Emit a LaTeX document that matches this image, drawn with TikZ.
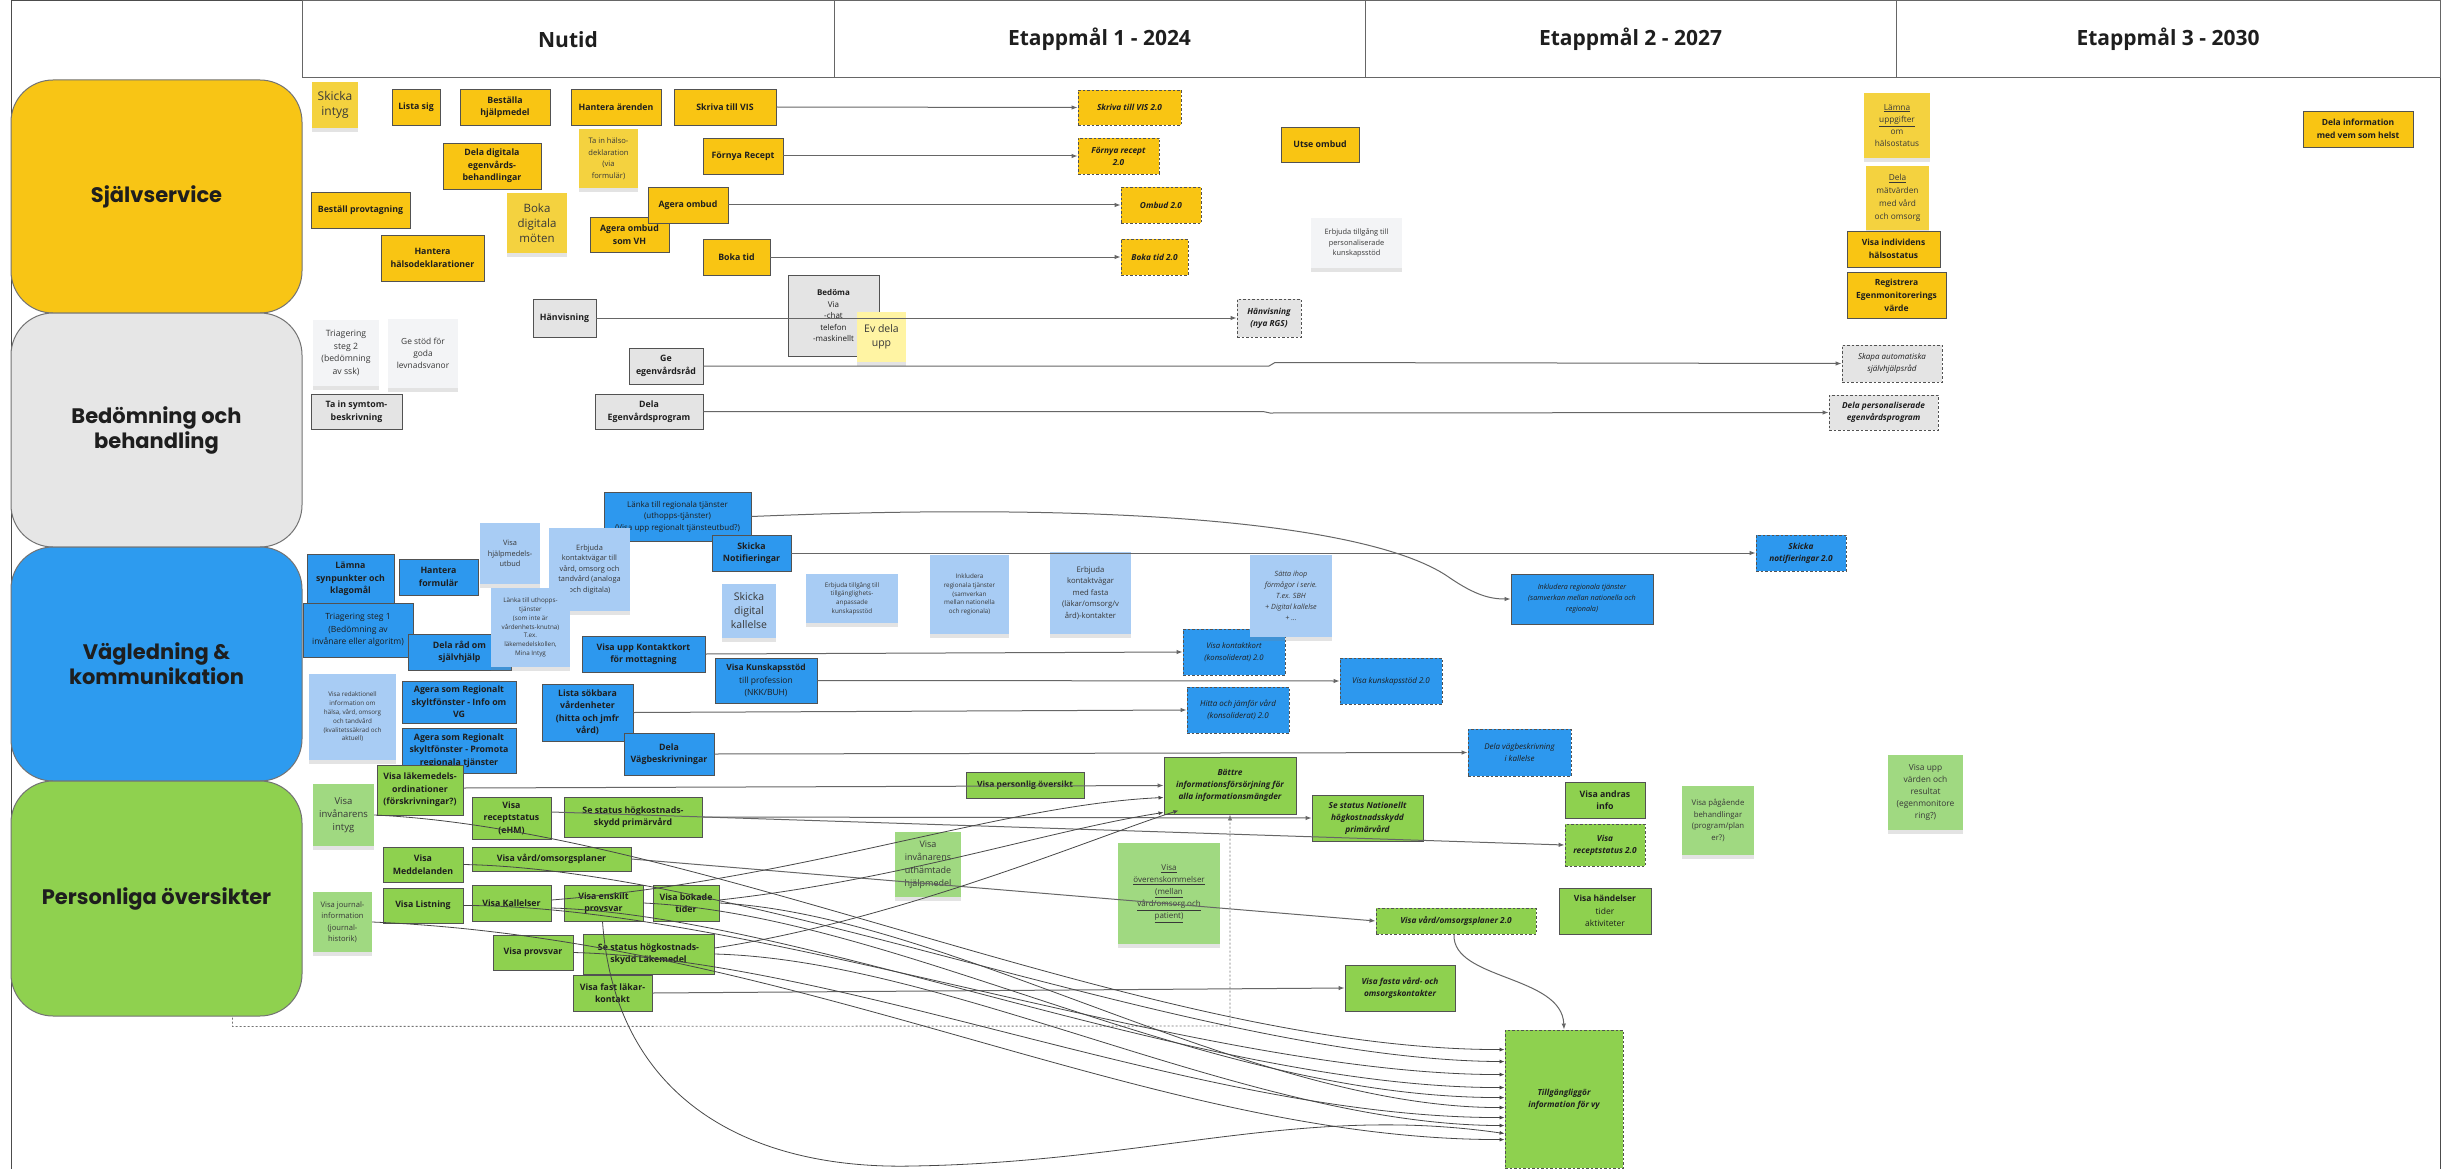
\documentclass[tikz,border=0pt]{standalone}
\usepackage{fontspec}
\setmainfont{Open Sans}
\newfontfamily\lanefont{Poppins}
\usetikzlibrary{arrows.meta,shadows,calc}
\definecolor{cT}{HTML}{1E1E1E}
\definecolor{cY}{HTML}{F9C513}
\definecolor{cYS}{HTML}{F4D23F}
\definecolor{cYL}{HTML}{FFF4A3}
\definecolor{cG}{HTML}{E4E4E4}
\definecolor{cGS}{HTML}{F3F4F6}
\definecolor{cB}{HTML}{2D98EE}
\definecolor{cBS}{HTML}{A8CCF4}
\definecolor{cGr}{HTML}{8ED14F}
\definecolor{cGrS}{HTML}{A0D981}
\definecolor{cLY}{HTML}{F8C515}
\definecolor{cLG}{HTML}{E6E6E6}
\definecolor{cLB}{HTML}{2D9BEF}
\definecolor{cLGr}{HTML}{8FD14F}
\newcommand\fsz[2]{\fontsize{#1}{#2}\selectfont}
\newcommand\bx[7]{%
  \pgfmathsetmacro\bxw{#5-#3}%
  \pgfmathsetmacro\bxh{#6-#4}%
  \pgfmathsetmacro\bxcx{(#3+#5)/2}%
  \pgfmathsetmacro\bxcy{(#4+#6)/2}%
  \node[#1, minimum width=\bxw pt, minimum height=\bxh pt] (#2) at (\bxcx,\bxcy) {#7};}
\tikzset{
  bxbase/.style={rectangle, inner sep=1.5pt, align=center, text=cT},
  sol/.style={bxbase, draw=black!68, line width=0.95pt},
  dsh/.style={bxbase, draw=black!68, line width=0.9pt, dash pattern=on 2.5pt off 2pt},
  fB/.style={font=\fsz{8.8}{12.5}\bfseries},
  fBI/.style={font=\fsz{8.3}{12}\bfseries\itshape},
  fI/.style={font=\fsz{8}{11.5}\itshape},
  fN/.style={font=\fsz{8}{11.5}},
  fS/.style={font=\fsz{7.4}{10.5}},
  fT/.style={font=\fsz{6.3}{8.8}},
  fL/.style={font=\fsz{11.5}{15}},
  ybox/.style={sol, fill=cY, fB}, ydash/.style={dsh, fill=cY, fBI},
  gbox/.style={sol, fill=cG, fB}, gdash/.style={dsh, fill=cG, fBI},
  bbox/.style={sol, fill=cB, fB}, bdash/.style={dsh, fill=cB, fI},
  grbox/.style={sol, fill=cGr, fB}, grdash/.style={dsh, fill=cGr, fBI},
  sticky/.style={bxbase, text=black!78, fS, drop shadow={shadow xshift=0pt, shadow yshift=-4pt, opacity=0.22}},
  ys/.style={sticky, fill=cYS}, yl/.style={sticky, fill=cYL},
  gs/.style={sticky, fill=cGS}, bs/.style={sticky, fill=cBS}, grs/.style={sticky, fill=cGrS},
  hdr/.style={rectangle, draw=black!60, line width=1pt, text=cT, font=\fsz{21}{25}\bfseries},
  lane/.style={rectangle, rounded corners=42pt, draw=black!55, line width=1pt, align=center, text=cT, font=\lanefont\fsz{21}{25}\bfseries},
  arr/.style={draw=black!60, line width=1pt, -{Latex[length=6pt,width=4.5pt]}},
  sp/.style={draw=black!72, line width=0.8pt, -{Latex[length=5pt,width=4pt]}},
  dotc/.style={draw=black!55, line width=0.9pt, dash pattern=on 2pt off 2pt, -{Latex[length=6pt,width=4.5pt]}}
}
\begin{document}
\begin{tikzpicture}[x=1pt,y=-1pt]
\useasboundingbox (0,0) rectangle (2443,1169);
\fill[white] (0,0) rectangle (2443,1169);
\draw[black!70, line width=1pt] (11,1169) -- (11,1) -- (2440,1) -- (2440,1169);
% header
\bx{hdr}{h0}{302}{1}{834}{78}{Nutid}
\bx{hdr}{h1}{834}{1}{1365}{78}{Etappmål 1 - 2024}
\bx{hdr}{h2}{1365}{1}{1896}{78}{Etappmål 2 - 2027}
\bx{hdr}{h3}{1896}{1}{2440}{78}{Etappmål 3 - 2030}
% lanes
\bx{lane,fill=cLY}{ls}{11}{80}{302}{313}{Självservice}
\bx{lane,fill=cLG}{lb}{11}{313}{302}{547}{Bedömning och\\behandling}
\bx{lane,fill=cLB}{lv}{11}{547}{302}{781}{Vägledning \&\\kommunikation}
\bx{lane,fill=cLGr}{lp}{11}{781}{302}{1016}{Personliga översikter}
% Självservice
\bx{ys,font=\fsz{12}{15}}{skickaintyg}{312}{82}{358}{128}{Skicka\\intyg}
\bx{ybox}{listasig}{392}{89}{440}{125}{Lista sig}
\bx{ybox}{bestalla}{460}{89}{550}{125}{Beställa\\hjälpmedel}
\bx{ybox}{hantarenden}{571}{89}{661}{125}{Hantera ärenden}
\bx{ybox}{skrivavis}{674}{89}{776}{125}{Skriva till VIS}
\bx{ys,font=\fsz{7.6}{11.5}}{tainhalso}{579}{129}{638}{188}{Ta in hälso-\\deklaration\\(via\\formulär)}
\bx{ybox}{deladig}{443}{143}{541}{189}{Dela digitala\\egenvårds-\\behandlingar}
\bx{ybox}{fornya}{703}{138}{783}{174}{Förnya Recept}
\bx{ybox}{bestprov}{311}{192}{410}{228}{Beställ provtagning}
\bx{ys,fL}{bokadig}{507}{193}{567}{253}{Boka\\digitala\\möten}
\bx{ybox}{agerovh}{590}{217}{669}{252}{Agera ombud\\som VH}
\bx{ybox}{agerombud}{648}{187}{728}{223}{Agera ombud}
\bx{ybox}{hanthalso}{381}{235}{484}{281}{Hantera\\hälsodeklarationer}
\bx{ybox}{bokatid}{703}{239}{770}{275}{Boka tid}
\bx{ydash}{skriva2}{1078}{90}{1181}{125}{Skriva till VIS 2.0}
\bx{ydash}{fornya2}{1078}{138}{1159}{174}{Förnya recept\\2.0}
\bx{ydash}{ombud2}{1121}{187}{1201}{223}{Ombud 2.0}
\bx{ydash}{bokatid2}{1121}{239}{1188}{275}{Boka tid 2.0}
\bx{ybox}{utse}{1281}{127}{1359}{162}{Utse ombud}
\bx{gs}{erbpers}{1311}{218}{1402}{268}{Erbjuda tillgång till\\personaliserade\\kunskapsstöd}
\bx{ys,font=\fsz{8.3}{12.3}}{lamnaupp}{1864}{93}{1930}{158}{\underline{Lämna}\\\underline{uppgifter}\\om\\hälsostatus}
\bx{ys,font=\fsz{8.3}{13}}{delamat}{1866}{166}{1929}{230}{\underline{Dela}\\mätvärden\\med vård\\och omsorg}
\bx{ybox,font=\fsz{8.5}{13}\bfseries}{visaind}{1847}{231}{1940}{267}{Visa individens\\hälsostatus}
\bx{ybox,font=\fsz{8.5}{13}\bfseries}{registrera}{1847}{272}{1946}{318}{Registrera\\Egenmonitorerings\\värde}
\bx{ybox,font=\fsz{8.5}{13}\bfseries}{delainfo}{2303}{111}{2413}{147}{Dela information\\med vem som helst}
% Bedömning
\bx{gbox}{hanvisning}{533}{299}{596}{337}{Hänvisning}
\bx{gbox,fN}{bedoma}{788}{275}{879}{356}{\textbf{Bedöma}\\Via\\-chat\\telefon\\-maskinellt}
\bx{yl,font=\fsz{10.5}{14}}{evdela}{857}{312}{906}{362}{Ev dela\\upp}
\bx{gdash}{hanvisning2}{1237}{299}{1301}{337}{Hänvisning\\(nya RGS)}
\bx{gs,font=\fsz{8.7}{12.5}}{triag2}{313}{320}{379}{386}{Triagering\\steg 2\\(bedömning\\av ssk)}
\bx{gs,font=\fsz{8.4}{12}}{gestod}{388}{319}{458}{388}{Ge stöd för\\goda\\levnadsvanor}
\bx{gbox}{tainsymtom}{311}{394}{402}{429}{Ta in symtom-\\beskrivning}
\bx{gbox}{geegen}{629}{348}{703}{384}{Ge\\egenvårdsråd}
\bx{gbox}{delaegen}{595}{394}{703}{429}{Dela\\Egenvårdsprogram}
\bx{gdash,fI}{skapa}{1842}{345}{1942}{382}{Skapa automatiska\\självhjälpsråd}
\bx{gdash}{delapers}{1829}{395}{1938}{430}{Dela personaliserade\\egenvårdsprogram}
% Vägledning
\bx{bbox,fN}{lanka}{604}{492}{751}{541}{Länka till regionala tjänster\\(uthopps-tjänster)\\(Visa upp regionalt tjänsteutbud?)}
\bx{bbox}{skickanot}{712}{535}{791}{571}{Skicka\\Notifieringar}
\bx{bs}{visahj}{480}{523}{540}{584}{Visa\\hjälpmedels-\\utbud}
\bx{bs}{erbkont}{549}{528}{630}{611}{Erbjuda\\kontaktvägar till\\vård, omsorg och\\tandvård (analoga\\och digitala)}
\bx{bbox}{lamna}{307}{554}{394}{604}{Lämna\\synpunkter och\\klagomål}
\bx{bbox}{hantform}{399}{559}{478}{595}{Hantera\\formulär}
\bx{bbox,font=\fsz{8.5}{12.5}}{triag1}{303}{603}{413}{657}{Triagering steg 1\\(Bedömning av\\invånare eller algoritm)}
\bx{bbox}{delarad}{408}{634}{511}{670}{Dela råd om\\självhjälp}
\bx{bs,fT}{lankauth}{491}{588}{570}{667}{Länka till uthopps-\\tjänster\\(som inte är\\vårdenhets-knutna)\\T.ex.\\läkemedelskollen,\\Mina Intyg}
\bx{bs,font=\fsz{10.5}{14}}{skickadig}{722}{584}{776}{638}{Skicka\\digital\\kallelse}
\bx{bbox}{visaupp}{582}{636}{705}{672}{Visa upp Kontaktkort\\för mottagning}
\bx{bbox,font=\fsz{8.5}{12.5}}{visakun}{715}{658}{817}{703}{\textbf{Visa Kunskapsstöd}\\till profession\\(NKK/BUH)}
\bx{bs,fT}{visared}{309}{674}{396}{760}{Visa redaktionell\\information om\\hälsa, vård, omsorg\\och tandvård\\(kvalitetssäkrad och\\aktuell)}
\bx{bbox}{agera1}{402}{681}{516}{723}{Agera som Regionalt\\skyltfönster - Info om\\VG}
\bx{bbox}{agera2}{402}{728}{516}{773}{Agera som Regionalt\\skyltfönster - Promota\\regionala tjänster}
\bx{bbox}{lista}{542}{684}{633}{741}{Lista sökbara\\vårdenheter\\(hitta och jmfr\\vård)}
\bx{bbox}{delavag}{624}{733}{714}{775}{Dela\\Vägbeskrivningar}
\bx{bs,fT}{erbtill}{806}{574}{898}{623}{Erbjuda tillgång till\\tillgänglighets-\\anpassade\\kunskapsstöd}
\bx{bs,fT}{inkl1}{930}{555}{1009}{634}{Inkludera\\regionala tjänster\\(samverkan\\mellan nationella\\och regionala)}
\bx{bs,font=\fsz{7.7}{11.5}}{erbfasta}{1050}{552}{1131}{634}{Erbjuda\\kontaktvägar\\med fasta\\(läkar/omsorg/v\\ård)-kontakter}
\bx{bdash,font=\fsz{7.7}{12}\itshape}{visakont2}{1183}{629}{1285}{675}{Visa kontaktkort\\(konsoliderat) 2.0}
\bx{bs,font=\fsz{7.2}{11}\itshape}{satta}{1250}{555}{1332}{637}{Sätta ihop\\förmågor i serie.\\T.ex. SBH\\+ Digital kallelse\\+ ...}
\bx{bdash}{hitta2}{1187}{687}{1289}{733}{Hitta och jämför vård\\(konsoliderat) 2.0}
\bx{bdash}{visakun2}{1340}{658}{1442}{704}{Visa kunskapsstöd 2.0}
\bx{bdash}{delavag2}{1468}{729}{1571}{776}{Dela vägbeskrivning\\i kallelse}
\bx{bdash,fBI}{skickanot2}{1756}{535}{1846}{571}{Skicka\\notifieringar 2.0}
\bx{bbox,font=\fsz{7.2}{11}\itshape}{inkl2}{1511}{574}{1653}{624}{Inkludera regionala tjänster\\(samverkan mellan nationella och\\regionala)}
% Personliga
\bx{grbox}{visalak}{377}{765}{463}{815}{Visa läkemedels-\\ordinationer\\(förskrivningar?)}
\bx{grs,font=\fsz{9.5}{13}}{visaintyg}{313}{784}{374}{846}{Visa\\invånarens\\intyg}
\bx{grbox}{visarec}{472}{797}{551}{839}{Visa\\receptstatus\\(eHM)}
\bx{grbox}{sestatus}{564}{797}{702}{837}{Se status högkostnads-\\skydd primärvård}
\bx{grbox}{visamedd}{383}{847}{463}{882}{Visa\\Meddelanden}
\bx{grbox}{visavard}{472}{847}{631}{871}{Visa vård/omsorgsplaner}
\bx{grbox}{visalist}{383}{888}{463}{923}{Visa Listning}
\bx{grbox}{visakall}{472}{885}{551}{921}{Visa Kallelser}
\bx{grbox}{visaensk}{564}{885}{643}{921}{Visa enskilt\\provsvar}
\bx{grbox}{visabok}{653}{885}{719}{921}{Visa bokade\\tider}
\bx{grs,font=\fsz{7.6}{11.5}}{visajour}{313}{892}{372}{952}{Visa journal-\\information\\(journal-\\historik)}
\bx{grbox}{visaprov}{493}{935}{573}{970}{Visa provsvar}
\bx{grbox}{sestatlak}{583}{934}{714}{974}{Se status högkostnads-\\skydd Läkemedel}
\bx{grbox}{visafast}{573}{975}{652}{1011}{Visa fast läkar-\\kontakt}
\bx{grs,font=\fsz{9}{13}}{visauth}{895}{832}{961}{897}{Visa\\invånarens\\uthämtade\\hjälpmedel}
\bx{grs,font=\fsz{8}{12}}{visaover}{1118}{843}{1220}{944}{\underline{Visa}\\\underline{överenskommelser}\\\underline{(mellan}\\\underline{vård/omsorg och}\\\underline{patient)}}
\bx{grbox,font=\fsz{8.5}{12}\bfseries}{visapers}{966}{772}{1084}{798}{Visa personlig översikt}
\bx{grbox,fBI}{battre}{1164}{757}{1296}{814}{Bättre\\informationsförsörjning för\\alla informationsmängder}
\bx{grbox,fBI}{senat}{1312}{795}{1423}{841}{Se status Nationellt\\högkostnadsskydd\\primärvård}
\bx{grdash}{visavard2}{1376}{908}{1536}{934}{Visa vård/omsorgsplaner 2.0}
\bx{grbox,fBI}{visafasta}{1345}{965}{1455}{1011}{Visa fasta vård- och\\omsorgskontakter}
\bx{grbox}{visaandras}{1565}{782}{1645}{818}{Visa andras\\info}
\bx{grdash}{visarec2}{1565}{824}{1645}{866}{Visa\\receptstatus 2.0}
\bx{grs,font=\fsz{7.8}{11.5}}{visapag}{1682}{786}{1754}{855}{Visa pågående\\behandlingar\\(program/plan\\er?)}
\bx{grs,font=\fsz{8.4}{12.2}}{visavarden}{1888}{755}{1963}{830}{Visa upp\\värden och\\resultat\\(egenmonitore\\ring?)}
\bx{grbox,font=\fsz{8.5}{12.5}}{visahand}{1559}{888}{1651}{934}{\textbf{Visa händelser}\\tider\\aktiviteter}
\bx{grdash}{tillg}{1505}{1030}{1623}{1168}{Tillgängliggör\\information för vy}
% connectors: Självservice
\draw[arr] (skrivavis.east) -- (skriva2.west);
\draw[arr] (fornya.east) -- (fornya2.west);
\draw[arr] (agerombud.east) -- (ombud2.west);
\draw[arr] (bokatid.east) -- (bokatid2.west);
% Bedömning
\draw[arr] (hanvisning.east) -- (hanvisning2.west);
\draw[arr] (geegen.east) -- (1269,366) -- (1275,362.5) -- (skapa.west);
\draw[arr] (delaegen.east) -- (1263,411.5) -- (1270,413) -- (delapers.west);
% Vägledning
\draw[arr] (lanka.east) .. controls (1150,500) and (1380,528) .. (1450,578) .. controls (1475,595) and (1490,599) .. (inkl2.west);
\draw[arr] (skickanot.east) -- (skickanot2.west);
\draw[arr] (visaupp.east) -- (visakont2.west);
\draw[arr] (visakun.east) -- (visakun2.west);
\draw[arr] (lista.east) -- (hitta2.west);
\draw[arr] (delavag.east) -- (delavag2.west);
% Personliga
\draw[arr] ($(visalak.east)+(0,-2)$) -- (battre.west);
\draw[arr] (sestatus.east) -- (senat.west);
\draw[arr] ($(visarec.east)+(0,-6)$) -- (visarec2.west);
\draw[arr] (visavard.east) -- (visavard2.west);
\draw[arr] (visafast.east) -- (visafasta.west);
\draw[arr] ($(visavard2.south)+(-2,0)$) .. controls (1452,980) and (1562,975) .. (tillg.north);
\coordinate (dc) at (1230,1026);
\draw[dotc] ($(lp.south west)+(222,1)$) -- ++(0,9) -- (dc) -- (battre.south);
% to Bättre
\draw[sp] ($(visakall.east)+(0,-3)$) .. controls (800,880) and (1000,805) .. ($(battre.west)+(0,12)$);
\draw[sp] ($(visabok.east)+(0,-3)$) .. controls (900,880) and (1050,830) .. ($(battre.south west)+(0,-2)$);
\draw[sp] ($(sestatlak.east)+(0,-6)$) .. controls (900,920) and (1100,835) .. ($(battre.south west)+(15,-4)$);
% to Tillgängliggör
\draw[sp] (visaintyg.east) .. controls (700,830) and (1150,1050) .. ($(tillg.north west)+(0,20)$);
\draw[sp] (visamedd.east) .. controls (750,870) and (1200,1060) .. ($(tillg.north west)+(0,32)$);
\draw[sp] (visalist.east) .. controls (750,905) and (1200,1075) .. ($(tillg.north west)+(0,45)$);
\draw[sp] ($(visakall.east)+(0,5)$) .. controls (800,915) and (1200,1088) .. ($(tillg.north west)+(0,58)$);
\draw[sp] (visaensk.east) .. controls (900,915) and (1200,1098) .. ($(tillg.north west)+(0,68)$);
\draw[sp] (visabok.east) .. controls (950,915) and (1250,1108) .. ($(tillg.north west)+(0,78)$);
\draw[sp] (visaprov.east) .. controls (850,960) and (1200,1118) .. ($(tillg.north west)+(0,88)$);
\draw[sp] (sestatlak.east) .. controls (950,960) and (1250,1125) .. ($(tillg.north west)+(0,96)$);
\draw[sp] (visajour.east) .. controls (800,940) and (1150,1140) .. ($(tillg.north west)+(0,110)$);
\draw[sp] ($(visaensk.south)+(-1,0)$) .. controls (615,1100) and (750,1170) .. (913,1166) .. controls (1150,1162) and (1300,1104) .. ($(tillg.north west)+(0,104)$);
\end{tikzpicture}
\end{document}
